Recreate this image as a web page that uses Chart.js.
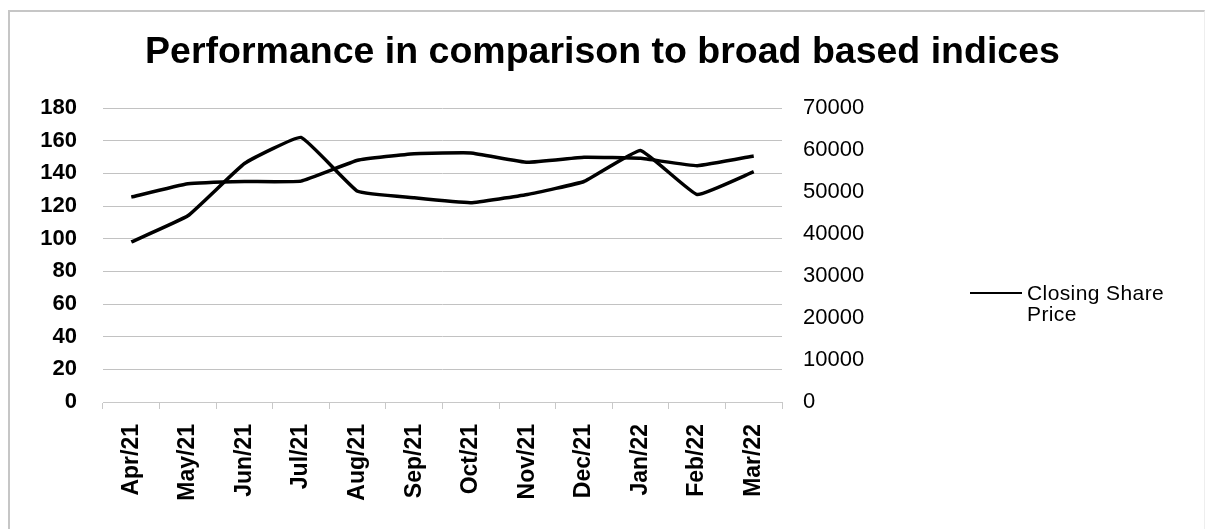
<!DOCTYPE html>
<html>
<head>
<meta charset="utf-8">
<script src="https://cdn.jsdelivr.net/npm/chart.js@4/dist/chart.umd.min.js"></script>
<style>
  body { margin: 0; background: #fff; }
  #wrap { position: relative; width: 1205px; height: 529px; overflow: hidden; }
  #frame { position: absolute; left: 8px; top: 10px; width: 1194px; height: 530px;
    border-left: 2px solid #c6c6c6; border-top: 2px solid #c6c6c6; border-right: 1px solid #eeeeee; }
  #legend { position: absolute; left: 970px; top: 282px; font-family: "Liberation Sans", Arial, sans-serif;
    font-size: 21px; line-height: 21px; letter-spacing: 0.4px; color: #000; }
  #legend .swatch { position: absolute; left: 0; top: 10px; width: 52px; height: 2px; background: #000; }
  #legend .txt { position: absolute; left: 57px; top: 0; white-space: nowrap; }
  canvas { position: absolute; left: 0; top: 0; }
</style>
</head>
<body>
<div id="wrap">
  <div id="frame"></div>
  <canvas id="perfChart" width="1205" height="529"></canvas>
  <div id="legend"><div class="swatch"></div><div class="txt">Closing Share<br>Price</div></div>
</div>
<script>
// data
var months = ['Apr/21', 'May/21', 'Jun/21', 'Jul/21', 'Aug/21', 'Sep/21', 'Oct/21', 'Nov/21', 'Dec/21', 'Jan/22', 'Feb/22', 'Mar/22'];
var closingPrice = [98, 114, 146, 162, 129, 125, 122, 127, 135, 154, 127, 141];
var sensex = [48780, 51940, 52480, 52590, 57550, 59130, 59310, 57060, 58250, 58010, 56250, 58570];
var leftTicks = [0, 20, 40, 60, 80, 100, 120, 140, 160, 180];
var rightTicks = [0, 10000, 20000, 30000, 40000, 50000, 60000, 70000];

var font = '"Liberation Sans", Arial, sans-serif';

var ctx = document.querySelector('#perfChart').getContext('2d');

var perfChart = new Chart(ctx, {
    type: 'line',
    data: {
        labels: months,
        datasets: [{
            label: 'Closing Share Price',
            data: closingPrice,
            borderColor: '#000',
            borderWidth: 3.5,
            pointRadius: 0,
            tension: 0.1,
            yAxisID: 'y'
        }, {
            label: 'Sensex',
            data: sensex,
            borderColor: '#000',
            borderWidth: 3.5,
            pointRadius: 0,
            tension: 0.1,
            yAxisID: 'y1'
        }]
    },
    options: {
        responsive: false,
        animation: false,
        layout: { padding: 0 },
        plugins: {
            legend: { display: false },
            tooltip: { enabled: false },
            title: {
                display: true,
                text: 'Performance in comparison to broad based indices',
                color: '#000',
                font: { family: font, size: 37.5, weight: 'bold' },
                padding: { top: 30.5, bottom: 32.5 }
            }
        },
        scales: {
            x: {
                offset: true,
                grid: { offset: true, drawOnChartArea: false, color: '#c8c8c8', tickLength: 7 },
                border: { color: '#c8c8c8' },
                ticks: {
                    color: '#000',
                    minRotation: 90,
                    maxRotation: 90,
                    padding: 15,
                    font: { family: font, size: 23, weight: 'bold' }
                },
                afterFit: function (scale) { scale.height = 127; }
            },
            y: {
                position: 'left',
                min: 0,
                max: 180,
                afterBuildTicks: function (scale) { scale.ticks = leftTicks.map(function (v) { return { value: v }; }); },
                grid: { color: '#c2c2c2', drawTicks: false },
                border: { display: false },
                ticks: { color: '#000', padding: 26, font: { family: font, size: 22, weight: 'bold' } },
                afterFit: function (scale) { scale.width = 103; }
            },
            y1: {
                position: 'right',
                min: 0,
                max: 70000,
                afterBuildTicks: function (scale) { scale.ticks = rightTicks.map(function (v) { return { value: v }; }); },
                grid: { drawOnChartArea: false, drawTicks: false },
                border: { display: false },
                ticks: {
                    color: '#000',
                    padding: 21,
                    font: { family: font, size: 22 },
                    callback: function (value) { return String(value); }
                },
                afterFit: function (scale) { scale.width = 423; }
            }
        }
    }
});
</script>
</body>
</html>
